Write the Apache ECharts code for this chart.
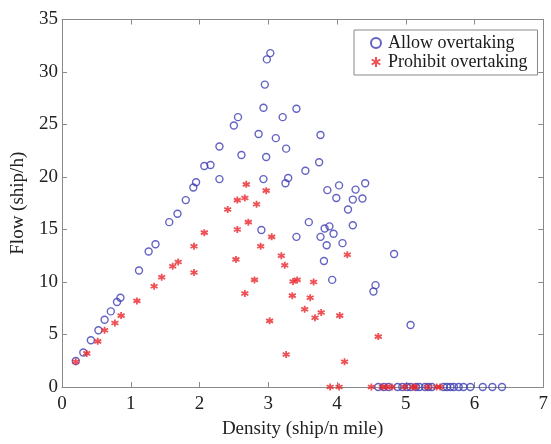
<!DOCTYPE html>
<html>
<head>
<meta charset="utf-8">
<script src="https://cdn.jsdelivr.net/npm/echarts@6/dist/echarts.min.js"></script>
<style>html,body{margin:0;padding:0;background:#fff;}#c{width:551px;height:444px;}</style>
</head>
<body>
<div id="c"></div>
<script>
// Allow overtaking (blue circles)
const allowX = [0.20,0.31,0.42,0.53,0.62,0.71,0.80,0.85,1.12,1.26,1.36,1.56,1.68,1.80,1.91,1.95,2.29,2.07,2.16,2.29,2.50,2.56,2.61,3.03,2.98,2.95,2.93,3.41,3.21,2.86,3.11,3.76,3.26,2.97,3.74,3.54,2.93,3.29,3.25,3.86,4.03,4.27,4.41,3.99,4.23,4.37,4.16,3.59,4.23,3.82,3.89,2.90,3.41,3.76,3.95,3.85,4.08,3.81,3.93,4.83,4.56,4.53,5.07,
  4.60,4.68,4.75,4.88,4.95,5.02,5.07,5.15,5.20,5.28,5.33,5.38,5.55,5.60,5.65,5.70,5.77,5.84,5.94,6.12,6.26,6.40];
const allowY = [2.47,3.28,4.45,5.4,6.4,7.2,8.1,8.5,11.1,12.9,13.6,15.7,16.5,17.8,19.0,19.5,19.8,21.05,21.15,22.9,24.9,25.7,22.1,31.8,31.2,28.8,26.6,26.5,25.7,24.1,23.7,24.0,22.7,21.9,21.4,20.6,19.8,19.9,19.4,18.75,19.2,18.8,19.4,18.0,17.85,17.95,16.9,15.7,15.4,15.1,15.3,14.95,14.3,14.3,14.6,13.5,13.7,12.0,10.2,12.66,9.7,9.1,5.9,
  0,0,0,0,0,0,0,0,0,0,0,0,0,0,0,0,0,0,0,0,0,0];
// Prohibit overtaking (red asterisks)
const prohibitX = [0.20,0.36,0.52,0.62,0.77,0.86,1.09,1.34,1.45,1.61,1.69,1.92,1.92,2.07,2.41,2.55,2.55,2.53,2.68,2.97,2.66,2.83,2.71,3.05,2.89,3.19,3.24,4.15,2.80,3.36,3.42,3.66,2.66,3.35,3.61,3.53,3.77,3.68,4.04,3.02,4.60,3.26,4.11,
  3.90,4.03,4.50,4.66,4.72,4.80,4.98,5.10,5.14,5.32,5.45,5.50];
const prohibitY = [2.4,3.2,4.35,5.4,6.1,6.8,8.2,9.6,10.45,11.5,11.9,10.9,13.4,14.7,16.9,17.8,15.0,12.15,19.3,18.7,18.0,17.4,15.7,14.3,13.4,12.5,11.6,12.6,10.2,10.05,10.2,10.0,8.9,8.7,8.5,7.4,7.1,6.6,6.8,6.3,4.8,3.1,2.4,
  0,0,0,0,0,0,0,0,0,0,0,0];
const seriesNames = ['Allow overtaking','Prohibit overtaking'];
const xName = 'Density (ship/n mile)';
const yName = 'Flow (ship/h)';

const zip = (a,b) => a.map((v,i)=>[v,b[i]]);
const font = "'Liberation Serif', 'Times New Roman', serif";
const axisCol = '#8a8a8a';
const star = 'path://M0,-5L0,5M-4.33,-2.5L4.33,2.5M-4.33,2.5L4.33,-2.5';

const chart = echarts.init(document.getElementById('c'), null, {renderer:'canvas'});
chart.setOption({
  backgroundColor:'#fff',
  animation:false,
  grid:{left:62,right:4,top:19.5,bottom:53.5,containLabel:false},
  legend:{
    left:354, top:30, orient:'vertical',
    data:seriesNames,
    borderColor:'#888', borderWidth:1, padding:[4,10,4,16],
    itemGap:1, itemWidth:10, itemHeight:10,
    textStyle:{fontFamily:font,fontSize:18,color:'#1a1a1a',padding:[0,0,0,2]}
  },
  xAxis:[{
    type:'value',min:0,max:7,interval:1,
    name:xName,nameLocation:'middle',nameGap:33,
    nameTextStyle:{fontFamily:font,fontSize:19,color:'#222'},
    axisLine:{show:true,onZero:false,lineStyle:{color:axisCol,width:1}},
    axisTick:{show:true,inside:true,length:5,lineStyle:{color:axisCol}},
    axisLabel:{fontFamily:font,fontSize:19,color:'#222',margin:8},
    splitLine:{show:false}
  },{
    type:'value',min:0,max:7,interval:1,position:'top',
    axisLine:{show:true,onZero:false,lineStyle:{color:axisCol,width:1}},
    axisTick:{show:true,inside:true,length:5,lineStyle:{color:axisCol}},
    axisLabel:{show:false},splitLine:{show:false}
  }],
  yAxis:[{
    type:'value',min:0,max:35,interval:5,
    name:yName,nameLocation:'middle',nameGap:34,
    nameTextStyle:{fontFamily:font,fontSize:19,color:'#222'},
    axisLine:{show:true,onZero:false,lineStyle:{color:axisCol,width:1}},
    axisTick:{show:true,inside:true,length:5,lineStyle:{color:axisCol}},
    axisLabel:{fontFamily:font,fontSize:19,color:'#222',margin:4},
    splitLine:{show:false}
  },{
    type:'value',min:0,max:35,interval:5,position:'right',
    axisLine:{show:true,onZero:false,lineStyle:{color:axisCol,width:1}},
    axisTick:{show:true,inside:true,length:5,lineStyle:{color:axisCol}},
    axisLabel:{show:false},splitLine:{show:false}
  }],
  series:[{
    name:seriesNames[0],type:'scatter',
    data:zip(allowX,allowY),
    symbol:'circle',symbolSize:7,
    itemStyle:{color:'rgba(0,0,0,0)',borderColor:'#3c3cb4',borderWidth:1.4},
    z:2
  },{
    name:seriesNames[1],type:'scatter',
    data:zip(prohibitX,prohibitY),
    symbol:star,symbolSize:7,
    itemStyle:{color:'#e8262a',borderColor:'#e8262a',borderWidth:1.8},
    z:3
  }]
});
</script>
</body>
</html>
